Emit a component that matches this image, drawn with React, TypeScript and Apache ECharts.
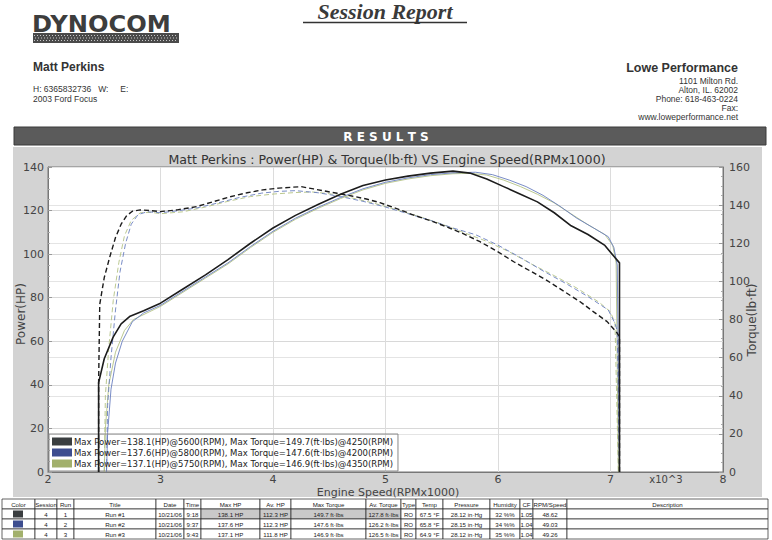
import React, { useEffect, useRef } from "react";
import * as echarts from "echarts";

// ---------- data ----------
const xTickLabels = ["2", "3", "4", "5", "6", "7", "8"];

// Power (HP) vs engine speed (RPM x1000)
const run1Power: number[][] = [
  [2.45, 0], [2.45, 41], [2.5, 52], [2.58, 62], [2.65, 68], [2.73, 71.5], [2.85, 74], [3.0, 77.5],
  [3.2, 84], [3.4, 90.5], [3.6, 97.5], [3.8, 105], [4.0, 112], [4.2, 117.8], [4.4, 122.8],
  [4.6, 127.5], [4.8, 131.5], [5.0, 134], [5.2, 135.8], [5.4, 137.2], [5.6, 138.1], [5.75, 137.2],
  [5.9, 134.5], [6.05, 131], [6.2, 127.5], [6.35, 124], [6.5, 119], [6.65, 113], [6.8, 109],
  [6.95, 104], [7.03, 99], [7.08, 96], [7.08, 0],
];
const run2Power: number[][] = [
  [2.52, 0], [2.53, 18], [2.56, 38], [2.6, 50], [2.66, 60], [2.75, 69], [2.85, 73], [3.0, 76.5],
  [3.2, 83], [3.4, 89.5], [3.6, 96], [3.8, 103.5], [4.0, 110.5], [4.2, 116.5], [4.4, 121.5],
  [4.6, 126], [4.8, 130], [5.0, 133], [5.2, 135], [5.4, 136.5], [5.6, 137.3], [5.8, 137.6],
  [5.95, 136.5], [6.1, 134], [6.25, 131], [6.4, 127], [6.55, 122], [6.7, 116.5], [6.85, 112],
  [6.98, 108], [7.03, 103], [7.06, 95], [7.08, 0],
];
const run3Power: number[][] = [
  [2.5, 0], [2.51, 20], [2.54, 40], [2.6, 55], [2.68, 65], [2.76, 70], [2.9, 73.5], [3.0, 76],
  [3.2, 82.5], [3.4, 89], [3.6, 95.5], [3.8, 103], [4.0, 110], [4.2, 116], [4.4, 121],
  [4.6, 125.5], [4.8, 129.5], [5.0, 132.5], [5.2, 134.5], [5.4, 136], [5.6, 136.9], [5.75, 137.1],
  [5.9, 136.3], [6.05, 134], [6.2, 131], [6.35, 127.5], [6.5, 123.5], [6.65, 118.5], [6.8, 113.5],
  [6.95, 109], [7.02, 104], [7.05, 96], [7.07, 0],
];

// Torque (lb-ft) vs engine speed (RPM x1000)
const run1Torque: number[][] = [
  [2.45, 0], [2.45, 47], [2.46, 88], [2.5, 102], [2.55, 113], [2.6, 123], [2.65, 130], [2.7, 134.5],
  [2.75, 136.8], [2.82, 137.5], [2.9, 137.2], [3.0, 136.6], [3.15, 137.5], [3.32, 139.2],
  [3.47, 141.8], [3.62, 144.4], [3.77, 146.5], [3.91, 148], [4.05, 148.9], [4.25, 149.7],
  [4.36, 148.5], [4.57, 146.2], [4.7, 144.8], [4.83, 143.2], [4.95, 141.3], [5.13, 137.5],
  [5.25, 134.8], [5.4, 131.8], [5.54, 128.7], [5.7, 124.8], [5.84, 120.8], [6.0, 115.5],
  [6.14, 110.3], [6.3, 105], [6.43, 100.7], [6.58, 95], [6.73, 89.3], [6.85, 84], [6.97, 78.9],
  [7.05, 73.6], [7.08, 71], [7.08, 0],
];
const run2Torque: number[][] = [
  [2.52, 0], [2.53, 35], [2.56, 60], [2.6, 85], [2.64, 105], [2.69, 120], [2.74, 130], [2.8, 135],
  [2.88, 136.5], [3.0, 136], [3.15, 137], [3.32, 138.5], [3.5, 141], [3.7, 144], [3.9, 146.3],
  [4.05, 147.2], [4.2, 147.6], [4.4, 146.5], [4.6, 144.5], [4.8, 142], [5.0, 139], [5.2, 135.5],
  [5.4, 132], [5.6, 128], [5.8, 124.5], [6.0, 119], [6.2, 112.5], [6.4, 105.5], [6.6, 99],
  [6.8, 92], [6.98, 85], [7.04, 78], [7.06, 74], [7.08, 0],
];
const run3Torque: number[][] = [
  [2.5, 0], [2.51, 40], [2.54, 65], [2.58, 90], [2.63, 110], [2.68, 124], [2.74, 132], [2.82, 136],
  [2.92, 136.2], [3.0, 135.5], [3.2, 136.5], [3.4, 139], [3.6, 142], [3.8, 144.5], [4.0, 145.8],
  [4.2, 146.6], [4.35, 146.9], [4.5, 146], [4.7, 143.8], [4.9, 141], [5.1, 137.5], [5.3, 134],
  [5.5, 130], [5.7, 125.5], [5.9, 121], [6.1, 115.5], [6.3, 109], [6.5, 103], [6.7, 96.5],
  [6.9, 89], [7.0, 84], [7.04, 78], [7.07, 0],
];

const runNames = ["Run #1", "Run #2", "Run #3"];
const legendTexts = [
  "Max Power=138.1(HP)@5600(RPM), Max Torque=149.7(ft·lbs)@4250(RPM)",
  "Max Power=137.6(HP)@5800(RPM), Max Torque=147.6(ft·lbs)@4200(RPM)",
  "Max Power=137.1(HP)@5750(RPM), Max Torque=146.9(ft·lbs)@4350(RPM)",
];

const tableHeaders = [
  "Color", "Session", "Run", "Title", "Date", "Time", "Max HP", "Av. HP", "Max Torque",
  "Av. Torque", "Type", "Temp", "Pressure", "Humidity", "CF", "RPM/Speed", "Description",
];
const tableRows: string[][] = [
  ["", "4", "1", "Run #1", "10/21/06", "9:18", "138.1 HP", "112.3 HP", "149.7 ft·lbs", "127.8 ft·lbs", "RO", "67.5 °F", "28.12 in·Hg", "32 %%", "1.05", "48.62", ""],
  ["", "4", "2", "Run #2", "10/21/06", "9:37", "137.6 HP", "112.3 HP", "147.6 ft·lbs", "126.2 ft·lbs", "RO", "65.8 °F", "28.15 in·Hg", "34 %%", "1.04", "49.03", ""],
  ["", "4", "3", "Run #3", "10/21/06", "9:43", "137.1 HP", "111.8 HP", "146.9 ft·lbs", "126.5 ft·lbs", "RO", "64.9 °F", "28.12 in·Hg", "35 %%", "1.04", "49.26", ""],
];

const headerLeft = ["Matt Perkins", "H: 6365832736   W:     E:", "2003 Ford Focus"];
const headerRight = ["Lowe Performance", "1101 Milton Rd.", "Alton, IL. 62002", "Phone: 618-463-0224", "Fax:", "www.loweperformance.net"];
const axisNames = ["Power(HP)", "Torque(lb·ft)", "Engine Speed(RPMx1000)", "x10^3"];

// ---------- styles ----------
const lineColors = ["#1c1c1c", "#6a7fbf", "#b3c283"];
const swatchColors = ["#3a3e40", "#3d4d8f", "#a2b06c"];
const colEdges = [2, 35, 57, 74, 156, 184, 201, 260, 291, 366, 401, 416, 443, 490, 520, 533, 567, 768];

export default function App() {
  const ref = useRef<HTMLDivElement>(null);

  useEffect(() => {
    if (!ref.current) return;
    const chart = echarts.init(ref.current, null, { renderer: "svg" });

    const g: any[] = [];
    // gray chart panel
    g.push({ type: "rect", z: -10, shape: { x: 13, y: 147, width: 749, height: 350 }, style: { fill: "#d3d3d3" } });
    // results bar
    g.push({ type: "rect", shape: { x: 14, y: 127, width: 752, height: 18 }, style: { fill: "#5b5b5b", stroke: "#3a3a3a", lineWidth: 1 } });
    g.push({ type: "text", x: 386, y: 136.5, style: { text: "R E S U L T S", fill: "#ffffff", font: "bold 12px 'DejaVu Sans'", textAlign: "center", textVerticalAlign: "middle" } });
    // chart title
    g.push({ type: "text", x: 387, y: 159, style: { text: "Matt Perkins : Power(HP) & Torque(lb·ft) VS Engine Speed(RPMx1000)", fill: "#333", font: "12.6px 'DejaVu Sans'", textAlign: "center", textVerticalAlign: "middle" } });
    // session report
    g.push({ type: "text", x: 385, y: 11, style: { text: "Session Report", fill: "#3a3a3a", font: "italic bold 22px 'Liberation Serif'", textAlign: "center", textVerticalAlign: "middle" } });
    g.push({ type: "line", shape: { x1: 303, y1: 22.5, x2: 467, y2: 22.5 }, style: { stroke: "#333", lineWidth: 1.5 } });
    // logo
    g.push({ type: "text", x: 32, y: 24, scaleX: 1.05, style: { text: "DYNOCOM", fill: "#3d3d3d", font: "bold 23px 'DejaVu Sans'", textAlign: "left", textVerticalAlign: "middle" } });
    g.push({ type: "rect", shape: { x: 33, y: 33, width: 146, height: 10 }, style: { fill: "#4a4a4a" } });
    [35.5, 38, 40.5].forEach((yy, i) => {
      g.push({ type: "line", shape: { x1: 34 + (i % 2), y1: yy, x2: 178, y2: yy }, style: { stroke: "#c8c8c8", lineWidth: 1, lineDash: [1, 2] } });
    });
    // left header
    g.push({ type: "text", x: 33, y: 67, style: { text: headerLeft[0], fill: "#333", font: "bold 12px 'Liberation Sans'", textVerticalAlign: "middle" } });
    g.push({ type: "text", x: 33, y: 89, style: { text: headerLeft[1], fill: "#333", font: "8.5px 'Liberation Sans'", textVerticalAlign: "middle" } });
    g.push({ type: "text", x: 33, y: 99, style: { text: headerLeft[2], fill: "#333", font: "8.5px 'Liberation Sans'", textVerticalAlign: "middle" } });
    // right header
    g.push({ type: "text", x: 738, y: 68, style: { text: headerRight[0], fill: "#333", font: "bold 12.5px 'Liberation Sans'", textAlign: "right", textVerticalAlign: "middle" } });
    const addrY = [81, 90, 99, 108, 117];
    headerRight.slice(1).forEach((t, i) => {
      g.push({ type: "text", x: 738, y: addrY[i], style: { text: t, fill: "#333", font: "8.5px 'Liberation Sans'", textAlign: "right", textVerticalAlign: "middle" } });
    });
    // axis names
    g.push({ type: "text", x: 21, y: 314, rotation: Math.PI / 2, style: { text: axisNames[0], fill: "#444", font: "12px 'DejaVu Sans'", textAlign: "center", textVerticalAlign: "middle" } });
    g.push({ type: "text", x: 752, y: 320, rotation: Math.PI / 2, style: { text: axisNames[1], fill: "#444", font: "12px 'DejaVu Sans'", textAlign: "center", textVerticalAlign: "middle" } });
    g.push({ type: "text", x: 388, y: 492, style: { text: axisNames[2], fill: "#444", font: "11px 'DejaVu Sans'", textAlign: "center", textVerticalAlign: "middle" } });
    g.push({ type: "text", x: 666, y: 479, style: { text: axisNames[3], fill: "#444", font: "10px 'DejaVu Sans'", textAlign: "center", textVerticalAlign: "middle" } });

    // table
    const tTop = 499;
    const rowH = 10;
    const tFont = "6.1px 'Liberation Sans'";
    const allRows = [tableHeaders, ...tableRows];
    allRows.forEach((row, r) => {
      const y0 = tTop + r * rowH;
      row.forEach((cell, c) => {
        const x0 = colEdges[c];
        const w = colEdges[c + 1] - colEdges[c];
        const shaded = r === 1 && c >= 6 && c <= 9;
        g.push({ type: "rect", shape: { x: x0, y: y0, width: w, height: rowH }, style: { fill: shaded ? "#c9c9c9" : "#fff", stroke: "#222", lineWidth: 0.7 } });
        if (r > 0 && c === 0) {
          g.push({ type: "rect", shape: { x: x0 + 11, y: y0 + 1.5, width: 10, height: 7 }, style: { fill: swatchColors[r - 1] } });
        }
        if (cell) {
          g.push({ type: "text", x: x0 + w / 2, y: y0 + rowH / 2 + 0.5, style: { text: cell, fill: "#222", font: tFont, textAlign: "center", textVerticalAlign: "middle" } });
        }
      });
    });

    const mkSeries = (name: string, data: number[][], axis: number, idx: number, torque: boolean) => ({
      type: "line",
      name,
      data,
      yAxisIndex: axis,
      showSymbol: false,
      symbol: "none",
      color: swatchColors[idx],
      z: idx === 0 ? 5 : 3,
      lineStyle: {
        color: lineColors[idx],
        width: idx === 0 ? (torque ? 1.4 : 1.6) : 0.9,
        type: torque ? [5, 3] : "solid",
      },
    });

    const option: any = {
      animation: false,
      backgroundColor: "#ffffff",
      grid: { left: 48, right: 49, top: 167, bottom: 68, show: true, backgroundColor: "#ffffff", borderColor: "#777", borderWidth: 1 },
      xAxis: {
        type: "value", min: 2, max: 8, interval: 1,
        axisLine: { show: true, lineStyle: { color: "#777" } },
        axisTick: { show: false },
        axisLabel: { color: "#444", fontSize: 11, fontFamily: "DejaVu Sans", margin: 2, formatter: (v: number) => xTickLabels[Math.round(v) - 2] ?? "" },
        splitLine: { show: true, lineStyle: { color: "#dcdcdc", width: 1 } },
      },
      yAxis: [
        {
          type: "value", min: 0, max: 140, interval: 20, position: "left",
          axisLine: { show: true, lineStyle: { color: "#777" } },
          axisTick: { show: true, inside: true, length: 4, lineStyle: { color: "#999" } },
          minorTick: { show: true, splitNumber: 4, length: 2, lineStyle: { color: "#aaa" } },
          axisLabel: { color: "#444", fontSize: 11, fontFamily: "DejaVu Sans", margin: 4 },
          splitLine: { show: true, lineStyle: { color: "#d8d8d8" } },
        },
        {
          type: "value", min: 0, max: 160, interval: 20, position: "right",
          axisLine: { show: true, lineStyle: { color: "#777" } },
          axisTick: { show: true, inside: true, length: 4, lineStyle: { color: "#999" } },
          minorTick: { show: true, splitNumber: 4, length: 2, lineStyle: { color: "#aaa" } },
          axisLabel: { color: "#444", fontSize: 11, fontFamily: "DejaVu Sans", margin: 6 },
          splitLine: { show: true, lineStyle: { color: "#e4e4e4" } },
        },
      ],
      legend: {
        orient: "vertical",
        left: 49, top: 434,
        data: runNames.map((n, i) => ({ name: n + " Power", itemStyle: { color: swatchColors[i] }, icon: "rect" })),
        formatter: (name: string) => legendTexts[runNames.findIndex((n) => n + " Power" === name)],
        itemWidth: 20, itemHeight: 8, itemGap: 2,
        padding: [3, 5, 3, 3],
        borderColor: "#888", borderWidth: 1,
        backgroundColor: "rgba(255,255,255,0)",
        textStyle: { fontSize: 8.5, fontFamily: "DejaVu Sans", color: "#222", padding: [0, 0, 0, -3] },
        selectedMode: false,
      },
      graphic: { elements: g },
      series: [
        mkSeries("Run #3 Power", run3Power, 0, 2, false),
        mkSeries("Run #2 Power", run2Power, 0, 1, false),
        mkSeries("Run #3 Torque", run3Torque, 1, 2, true),
        mkSeries("Run #2 Torque", run2Torque, 1, 1, true),
        mkSeries("Run #1 Power", run1Power, 0, 0, false),
        mkSeries("Run #1 Torque", run1Torque, 1, 0, true),
      ],
    };
    chart.setOption(option);
    return () => chart.dispose();
  }, []);

  return <div ref={ref} style={{ position: "fixed", left: 0, top: 0, width: 772, height: 540 }} />;
}
